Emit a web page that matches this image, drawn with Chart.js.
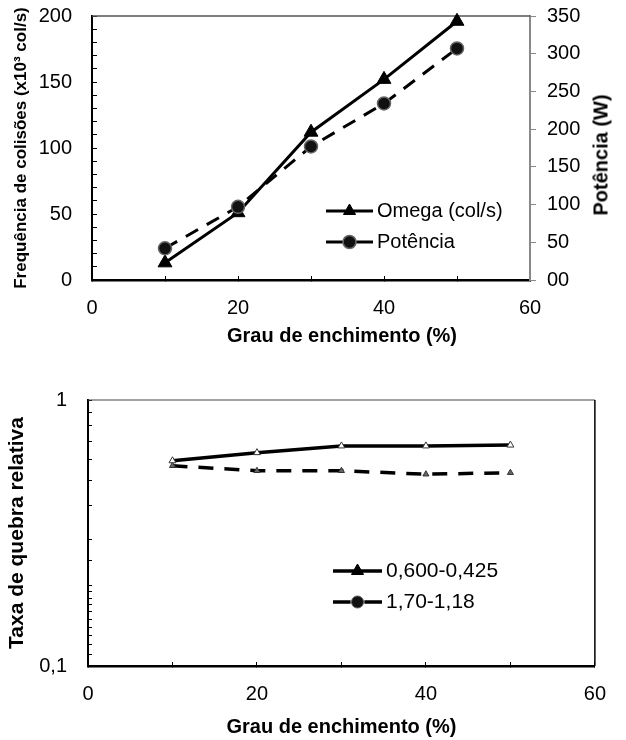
<!DOCTYPE html>
<html>
<head>
<meta charset="utf-8">
<script src="https://cdn.jsdelivr.net/npm/chart.js@4.4.1/dist/chart.umd.min.js"></script>
<style>
  body { margin: 0; background: #fff; font-family: 'Liberation Sans', Arial, sans-serif; }
  #page { position: relative; width: 626px; height: 740px; overflow: hidden; }
  .box { position: absolute; left: 0; }
  .title { position: absolute; font-weight: bold; font-size: 20px; white-space: nowrap; color: #000; }
</style>
</head>
<body>
<div id="page">
  <div class="box" style="top:0"><canvas id="topChart" width="626" height="350"></canvas></div>
  <div class="box" style="top:370px"><canvas id="bottomChart" width="626" height="370"></canvas></div>
  <div class="title" id="topXTitle" style="left:342px; top:335px; transform: translate(-50%, -50%);">Grau de enchimento (%)</div>
  <div class="title" id="topY1Title" style="left:601px; top:155px; transform: translate(-50%, -50%) rotate(-90deg);">Potência (W)</div>
</div>
<script>
// fill level (%) - same for both charts
var fillLevels = [10, 20, 30, 40, 50];

// top chart
var omegaLabel = 'Omega (col/s)';
var omega = [13, 51, 112, 152, 196];          // x10^3 col/s, left axis
var potenciaLabel = 'Potência';
var potencia = [42, 97, 177, 234, 307];       // W, right axis

// bottom chart (log axis)
var fineLabel = '0,600-0,425';
var breakFine = [0.591, 0.634, 0.672, 0.672, 0.677];
var coarseLabel = '1,70-1,18';
var breakCoarse = [0.566, 0.542, 0.542, 0.526, 0.533];

Chart.defaults.font.family = "'Liberation Sans', Arial, sans-serif";
Chart.defaults.color = '#000';

function toPoints(ys) {
	return fillLevels.map(function (x, i) { return { x: x, y: ys[i] }; });
}

// vertical axes: fixed width, and no extra top/bottom room for the labels
function fixWidth(w) {
	return function (s) {
		s.width = w;
		s.paddingTop = 0;
		s.paddingBottom = 0;
	};
}

// top / right edges of the plot box
var frameLines = {
	id: 'frameLines',
	beforeDatasetsDraw: function (chart, args, opts) {
		var a = chart.chartArea;
		var ctx = chart.ctx;
		ctx.save();
		if (opts.top) {
			ctx.strokeStyle = opts.top.color;
			ctx.lineWidth = opts.top.width;
			ctx.beginPath();
			ctx.moveTo(a.left, a.top);
			ctx.lineTo(a.right, a.top);
			ctx.stroke();
		}
		if (opts.right) {
			ctx.strokeStyle = opts.right.color;
			ctx.lineWidth = opts.right.width;
			ctx.beginPath();
			ctx.moveTo(a.right, a.top);
			ctx.lineTo(a.right, a.bottom);
			ctx.stroke();
		}
		ctx.restore();
	}
};

// legend drawn inside the plot area, Excel style (line + marker + text)
var innerLegend = {
	id: 'innerLegend',
	afterDraw: function (chart, args, opts) {
		var a = chart.chartArea;
		var ctx = chart.ctx;
		ctx.save();
		chart.data.datasets.forEach(function (ds, i) {
			var y = a.top + opts.y + i * opts.rowGap;
			var x0 = a.left + opts.x;
			var x1 = x0 + opts.lineLength;
			ctx.strokeStyle = '#000';
			ctx.lineWidth = opts.lineWidth;
			ctx.beginPath();
			if (ds.borderDash && ds.borderDash.length) {
				var seg = opts.lineLength * 0.36;
				ctx.moveTo(x0, y); ctx.lineTo(x0 + seg, y);
				ctx.moveTo(x1 - seg, y); ctx.lineTo(x1, y);
			} else {
				ctx.moveTo(x0, y); ctx.lineTo(x1, y);
			}
			ctx.stroke();
			var m = opts.markers[i];
			ctx.fillStyle = m.fill;
			ctx.strokeStyle = m.stroke;
			ctx.lineWidth = m.borderWidth;
			Chart.helpers.drawPoint(ctx, { pointStyle: m.style, radius: m.radius, borderWidth: m.borderWidth, rotation: 0 }, (x0 + x1) / 2, y);
			ctx.fillStyle = '#000';
			ctx.font = opts.font;
			ctx.textBaseline = 'middle';
			ctx.textAlign = 'left';
			ctx.fillText(ds.label, x1 + opts.gap, y);
		});
		ctx.restore();
	}
};

var topCtx = document.getElementById('topChart').getContext('2d');
new Chart(topCtx, {
	type: 'line',
	data: {
		datasets: [{
			label: omegaLabel,
			data: toPoints(omega),
			yAxisID: 'y',
			borderColor: '#000',
			borderWidth: 3,
			pointStyle: 'triangle',
			pointRadius: 8,
			pointBackgroundColor: '#000',
			pointBorderColor: '#000',
			pointBorderWidth: 1,
			clip: false,
			order: 2
		}, {
			label: potenciaLabel,
			data: toPoints(potencia),
			yAxisID: 'y1',
			borderColor: '#000',
			borderWidth: 3,
			borderDash: [14, 10],
			pointStyle: 'circle',
			pointRadius: 6.5,
			pointBackgroundColor: '#111',
			pointBorderColor: '#666',
			pointBorderWidth: 1.5,
			clip: false,
			order: 1
		}]
	},
	options: {
		responsive: false,
		animation: false,
		layout: { padding: { top: 16, left: 0, right: 0, bottom: 0 } },
		plugins: {
			legend: { display: false },
			tooltip: { enabled: false },
			frameLines: { top: { color: '#555', width: 1.5 } },
			innerLegend: {
				x: 234, y: 195, rowGap: 31, lineLength: 47, lineWidth: 3, gap: 4,
				font: "20px 'Liberation Sans', Arial, sans-serif",
				markers: [
					{ style: 'triangle', radius: 7, fill: '#000', stroke: '#000', borderWidth: 1 },
					{ style: 'circle', radius: 6.5, fill: '#111', stroke: '#666', borderWidth: 1.5 }
				]
			}
		},
		scales: {
			x: {
				type: 'linear', position: 'bottom', min: 0, max: 60,
				afterFit: function (s) { s.height = 70; },
				ticks: {
					stepSize: 10, autoSkip: false, maxRotation: 0, padding: 20,
					font: { size: 20 },
					callback: function (v) { return v % 20 === 0 ? v : ''; }
				},
				grid: { drawOnChartArea: false, drawTicks: true, tickLength: -4, tickColor: '#000', tickWidth: 1 },
				border: { display: true, color: '#000', width: 2.5 }
			},
			y: {
				type: 'linear', position: 'left', min: 0, max: 200,
				afterFit: fixWidth(92),
				ticks: {
					stepSize: 10, autoSkip: false, padding: 25,
					font: { size: 20 },
					callback: function (v) { return v % 50 === 0 ? v : ''; }
				},
				grid: { drawOnChartArea: false, drawTicks: true, tickLength: -5, tickColor: '#000', tickWidth: 1 },
				border: { display: true, color: '#000', width: 2 },
				title: {
					display: true, text: 'Frequência de colisões (x10³ col/s)',
					font: { size: 17, weight: 'bold' }, padding: { top: 11, bottom: 0 }
				}
			},
			y1: {
				type: 'linear', position: 'right', min: 0, max: 350,
				afterFit: fixWidth(96),
				ticks: {
					stepSize: 50, autoSkip: false, padding: 11,
					font: { size: 20 },
					callback: function (v) { return v === 0 ? '00' : v; }
				},
				grid: { drawOnChartArea: false, drawTicks: true, tickLength: 6, tickColor: '#888', tickWidth: 1 },
				border: { display: true, color: '#888', width: 2 }
			}
		}
	},
	plugins: [frameLines, innerLegend]
});

var bottomCtx = document.getElementById('bottomChart').getContext('2d');
new Chart(bottomCtx, {
	type: 'line',
	data: {
		datasets: [{
			label: fineLabel,
			data: toPoints(breakFine),
			borderColor: '#000',
			borderWidth: 3.5,
			pointStyle: 'triangle',
			pointRadius: 4,
			pointBackgroundColor: '#fff',
			pointBorderColor: '#333',
			pointBorderWidth: 1,
			clip: false
		}, {
			label: coarseLabel,
			data: toPoints(breakCoarse),
			borderColor: '#000',
			borderWidth: 3.5,
			borderDash: [15, 11],
			pointStyle: 'triangle',
			pointRadius: 3.5,
			pointBackgroundColor: '#666',
			pointBorderColor: '#333',
			pointBorderWidth: 1,
			clip: false
		}]
	},
	options: {
		responsive: false,
		animation: false,
		layout: { padding: { top: 30, left: 0, right: 13, bottom: 0 } },
		plugins: {
			legend: { display: false },
			tooltip: { enabled: false },
			frameLines: { top: { color: '#444', width: 1 }, right: { color: '#000', width: 1.5 } },
			innerLegend: {
				x: 245, y: 171, rowGap: 31, lineLength: 49, lineWidth: 3.5, gap: 4,
				font: "21px 'Liberation Sans', Arial, sans-serif",
				markers: [
					{ style: 'triangle', radius: 7, fill: '#000', stroke: '#000', borderWidth: 1 },
					{ style: 'circle', radius: 6, fill: '#111', stroke: '#555', borderWidth: 1 }
				]
			}
		},
		scales: {
			x: {
				type: 'linear', position: 'bottom', min: 0, max: 60,
				afterFit: function (s) { s.height = 74; },
				ticks: {
					stepSize: 10, autoSkip: false, maxRotation: 0, padding: 20,
					font: { size: 20 },
					callback: function (v) { return v % 20 === 0 ? v : ''; }
				},
				grid: { drawOnChartArea: false, drawTicks: true, tickLength: -4, tickColor: '#000', tickWidth: 1 },
				border: { display: true, color: '#000', width: 2.5 },
				title: {
					display: true, text: 'Grau de enchimento (%)',
					font: { size: 20, weight: 'bold' }, padding: { top: 0, bottom: 1 }
				}
			},
			y: {
				type: 'logarithmic', position: 'left', min: 0.1, max: 1,
				afterFit: fixWidth(88),
				ticks: {
					autoSkip: false, padding: 25,
					font: { size: 20 },
					callback: function (v) {
						if (Math.abs(v - 1) < 1e-9) return '1';
						if (Math.abs(v - 0.1) < 1e-9) return '0,1';
						return '';
					}
				},
				grid: { drawOnChartArea: false, drawTicks: true, tickLength: -4, tickColor: '#000', tickWidth: 1 },
				border: { display: true, color: '#000', width: 2 },
				title: {
					display: true, text: 'Taxa de quebra relativa',
					font: { size: 21, weight: 'bold' }, padding: { top: 5, bottom: 0 }
				}
			}
		}
	},
	plugins: [frameLines, innerLegend]
});
</script>
</body>
</html>
